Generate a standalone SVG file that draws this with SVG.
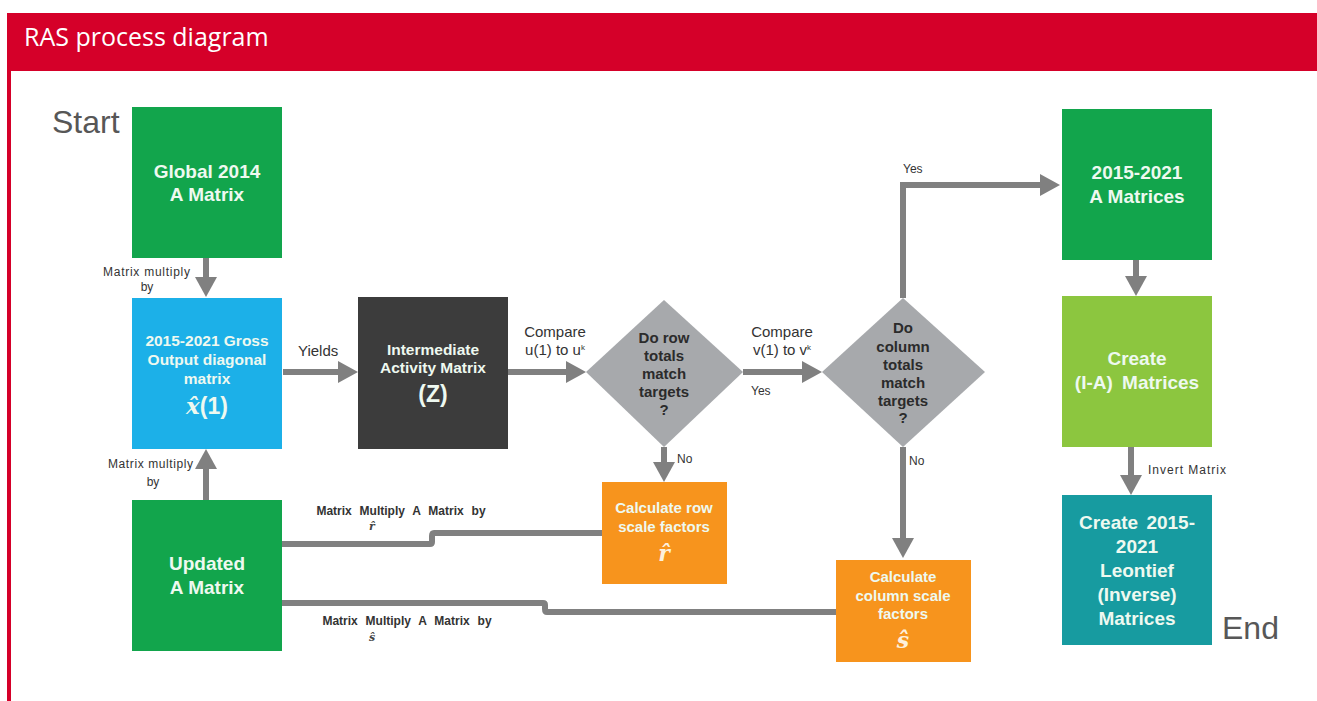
<svg xmlns="http://www.w3.org/2000/svg" width="1317" height="701" viewBox="0 0 1317 701">
<style>
.box{stroke:none}
.green{fill:#12a54c}
.lgreen{fill:#8cc63f}
.blue{fill:#1cb0e8}
.dark{fill:#3c3c3c}
.orange{fill:#f7941d}
.teal{fill:#179ba0}
.dia{fill:#a7a9ac}
.bt{font-family:"Liberation Sans",Arial,sans-serif;font-weight:bold;text-anchor:middle;fill:#eef9f0}
.dt{font-family:"Liberation Sans",Arial,sans-serif;font-weight:bold;text-anchor:middle;fill:#2b2b2b;font-size:15px}
.lbl{font-family:"Liberation Sans",Arial,sans-serif;fill:#333;font-size:12px}
.cmp{font-family:"Liberation Sans",Arial,sans-serif;fill:#333;font-size:15px}
.big{font-family:"Liberation Sans",Arial,sans-serif;fill:#575757;font-size:32px}
.con{fill:none;stroke:#808080;stroke-width:6}
.math{font-family:"DejaVu Serif","Liberation Serif",serif;font-style:italic;font-weight:bold}
</style>
<defs>
<marker id="ah" markerUnits="userSpaceOnUse" viewBox="0 0 20 22" markerWidth="20" markerHeight="22" refX="4" refY="11" orient="auto">
<path d="M0,0 L20,11 L0,22 z" fill="#808080"/>
</marker>
</defs>
<rect width="1317" height="701" fill="#ffffff"/>
<g id="header">
<rect x="7" y="13" width="1310" height="58" fill="#d50029"/>
<rect x="7" y="71" width="4" height="630" fill="#d50029"/>
<text x="24" y="46" font-family="'Open Sans','Liberation Sans',sans-serif" font-size="25" fill="#ffffff">RAS process diagram</text>
</g>
<text class="big" x="52" y="133">Start</text>
<text class="big" x="1222" y="639">End</text>
<g id="connectors">
<line class="con" x1="206" y1="258" x2="206" y2="281" marker-end="url(#ah)"/>
<line class="con" x1="206" y1="500" x2="206" y2="465" marker-end="url(#ah)"/>
<line class="con" x1="283" y1="372" x2="342" y2="372" marker-end="url(#ah)"/>
<line class="con" x1="508" y1="372" x2="570" y2="372" marker-end="url(#ah)"/>
<line class="con" x1="743" y1="372" x2="806" y2="372" marker-end="url(#ah)"/>
<path class="con" d="M903,298 V185 H1044" marker-end="url(#ah)"/>
<line class="con" x1="664" y1="447" x2="664" y2="466" marker-end="url(#ah)"/>
<line class="con" x1="903" y1="447" x2="903" y2="542" marker-end="url(#ah)"/>
<line class="con" x1="1136" y1="260" x2="1136" y2="280" marker-end="url(#ah)"/>
<line class="con" x1="1131" y1="447" x2="1131" y2="479" marker-end="url(#ah)"/>
<path class="con" d="M602,533 H434 Q432,533 432,536 V542 Q432,544 430,544 H282"/>
<path class="con" d="M836,612 H547 Q545,612 545,609 V605 Q545,603 543,603 H282"/>
<text class="lbl" x="103" y="276" textLength="87">Matrix multiply</text>
<text class="lbl" x="147" y="291" text-anchor="middle">by</text>
<text class="lbl" x="108" y="468" textLength="85">Matrix multiply</text>
<text class="lbl" x="153" y="486" text-anchor="middle">by</text>
<text class="cmp" x="298" y="356" font-size="13.5">Yields</text>
<text class="cmp" x="555" y="337" text-anchor="middle">Compare</text>
<text class="cmp" x="555" y="355" text-anchor="middle">u(1) to u<tspan font-size="8" dy="-5">k</tspan></text>
<text class="cmp" x="782" y="337" text-anchor="middle">Compare</text>
<text class="cmp" x="782" y="355" text-anchor="middle">v(1) to v<tspan font-size="8" dy="-5">k</tspan></text>
<text class="lbl" x="751" y="395" font-size="13">Yes</text>
<text class="lbl" x="903" y="173" font-size="13">Yes</text>
<text class="lbl" x="677" y="463" font-size="13">No</text>
<text class="lbl" x="909" y="465" font-size="13">No</text>
<text class="lbl" x="1148" y="474" textLength="78">Invert Matrix</text>
<text class="lbl" x="401" y="515" text-anchor="middle" font-weight="bold" font-size="13" fill="#444" word-spacing="4.5">Matrix Multiply A Matrix by</text>
<text class="math" x="372" y="530" text-anchor="middle" font-size="11" fill="#444">r̂</text>
<text class="lbl" x="407" y="625" text-anchor="middle" font-weight="bold" font-size="13" fill="#444" word-spacing="4.5">Matrix Multiply A Matrix by</text>
<text class="math" x="372" y="641" text-anchor="middle" font-size="11" fill="#444">ŝ</text>
</g>
<g id="global2014">
<rect class="box green" x="132" y="107" width="150" height="151"/>
<text class="bt" x="207" y="178" font-size="19">Global 2014</text>
<text class="bt" x="207" y="201" font-size="19">A Matrix</text>
</g>
<g id="grossOutput">
<rect class="box blue" x="132" y="298" width="150" height="151"/>
<text class="bt" x="207" y="346" font-size="15.5" fill="#e4f5ff">2015-2021 Gross</text>
<text class="bt" x="207" y="365" font-size="15.5" fill="#e4f5ff">Output diagonal</text>
<text class="bt" x="207" y="384" font-size="15.5" fill="#e4f5ff">matrix</text>
<text class="bt" x="207" y="414" font-size="23" fill="#e4f5ff"><tspan class="math" font-weight="normal">x̂</tspan>(1)</text>
</g>
<g id="intermediate">
<rect class="box dark" x="358" y="297" width="150" height="152"/>
<text class="bt" x="433" y="355" font-size="15.5" fill="#e6e6e6">Intermediate</text>
<text class="bt" x="433" y="373" font-size="15.5" fill="#e6e6e6">Activity Matrix</text>
<text class="bt" x="433" y="402" font-size="23" fill="#e6e6e6">(Z)</text>
</g>
<g id="rowCheck">
<polygon class="dia" points="664,300 743,372 664,447 586,372"/>
<text class="dt" x="664" y="343">Do row</text>
<text class="dt" x="664" y="361">totals</text>
<text class="dt" x="664" y="379">match</text>
<text class="dt" x="664" y="397">targets</text>
<text class="dt" x="664" y="415">?</text>
</g>
<g id="colCheck">
<polygon class="dia" points="903,298 985,372 903,447 822,372"/>
<text class="dt" x="903" y="333">Do</text>
<text class="dt" x="903" y="352">column</text>
<text class="dt" x="903" y="370">totals</text>
<text class="dt" x="903" y="388">match</text>
<text class="dt" x="903" y="406">targets</text>
<text class="dt" x="903" y="423">?</text>
</g>
<g id="rowScale">
<rect class="box orange" x="602" y="482" width="125" height="102"/>
<text class="bt" x="664" y="513" font-size="15" fill="#fdf0dc">Calculate row</text>
<text class="bt" x="664" y="532" font-size="15" fill="#fdf0dc">scale factors</text>
<text class="math" x="664" y="561" text-anchor="middle" font-size="22" fill="#fdf0dc">r̂</text>
</g>
<g id="colScale">
<rect class="box orange" x="836" y="560" width="135" height="102"/>
<text class="bt" x="903" y="582" font-size="15" fill="#fdf0dc">Calculate</text>
<text class="bt" x="903" y="601" font-size="15" fill="#fdf0dc">column scale</text>
<text class="bt" x="903" y="619" font-size="15" fill="#fdf0dc">factors</text>
<text class="math" x="903" y="648" text-anchor="middle" font-size="22" fill="#fdf0dc">ŝ</text>
</g>
<g id="updatedA">
<rect class="box green" x="132" y="500" width="150" height="151"/>
<text class="bt" x="207" y="570" font-size="19">Updated</text>
<text class="bt" x="207" y="594" font-size="19">A Matrix</text>
</g>
<g id="aMatrices">
<rect class="box green" x="1062" y="109" width="150" height="151"/>
<text class="bt" x="1137" y="179" font-size="19">2015-2021</text>
<text class="bt" x="1137" y="203" font-size="19">A Matrices</text>
</g>
<g id="createIA">
<rect class="box lgreen" x="1062" y="296" width="150" height="151"/>
<text class="bt" x="1137" y="365" font-size="19">Create</text>
<text class="bt" x="1137" y="389" font-size="19" word-spacing="4">(I-A) Matrices</text>
</g>
<g id="leontief">
<rect class="box teal" x="1062" y="495" width="150" height="150"/>
<text class="bt" x="1137" y="529" font-size="19" word-spacing="3">Create 2015-</text>
<text class="bt" x="1137" y="553" font-size="19">2021</text>
<text class="bt" x="1137" y="577" font-size="19">Leontief</text>
<text class="bt" x="1137" y="601" font-size="19">(Inverse)</text>
<text class="bt" x="1137" y="625" font-size="19">Matrices</text>
</g>
</svg>
